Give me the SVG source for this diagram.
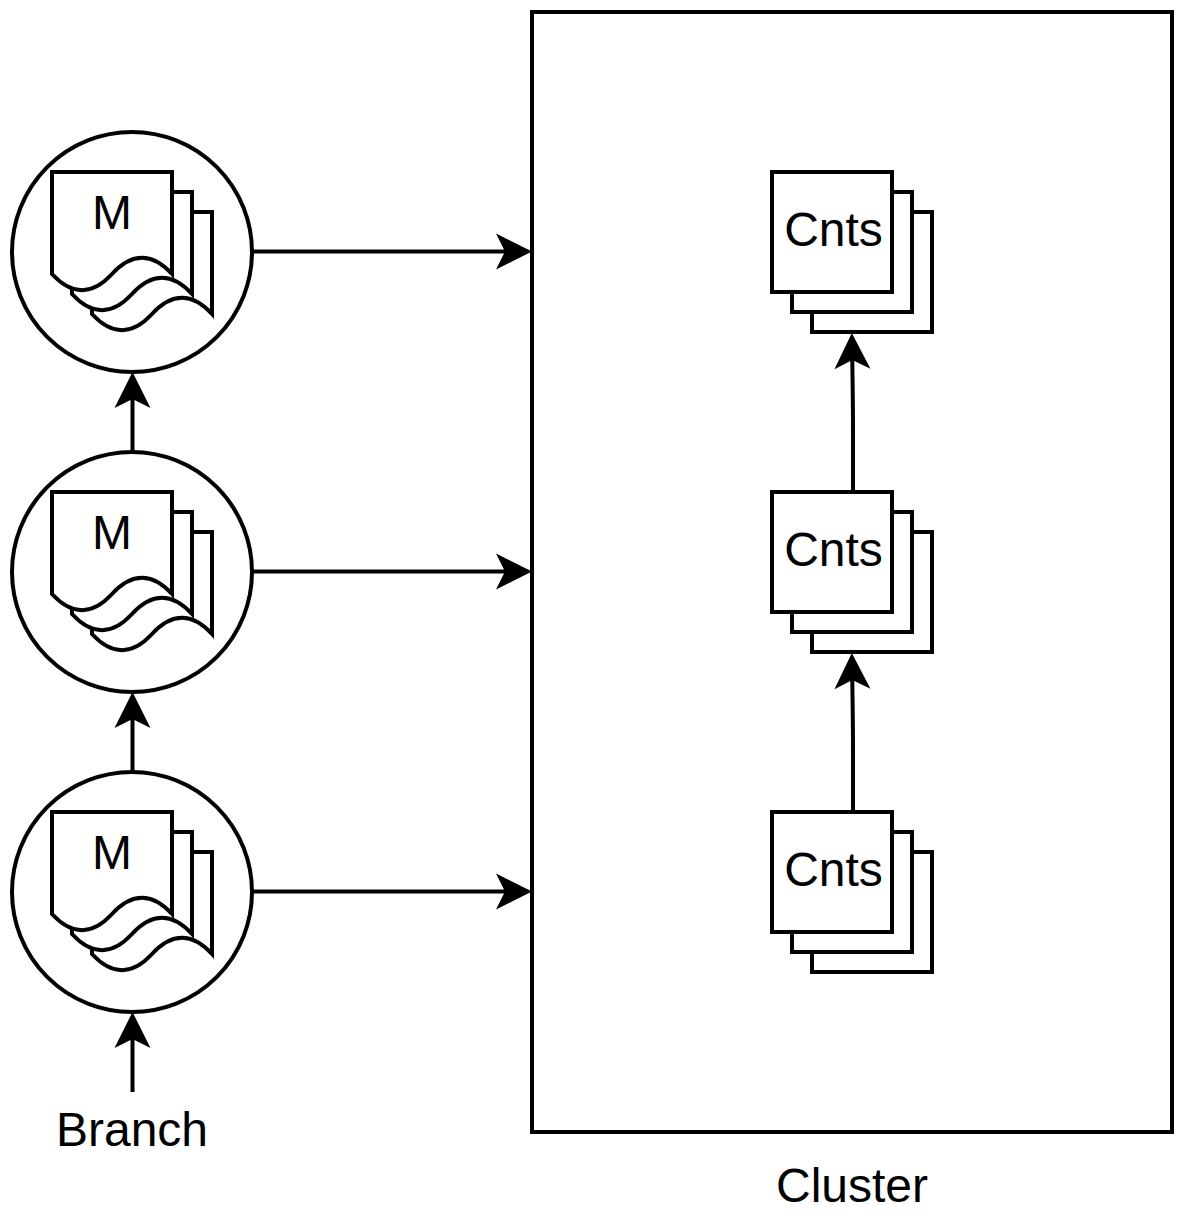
<svg xmlns="http://www.w3.org/2000/svg" xmlns:xlink="http://www.w3.org/1999/xlink" width="1184" height="1224" viewBox="0 0 1184 1224">
<style>
.s{fill:#fff;stroke:#000;stroke-width:4;stroke-miterlimit:10}
.c{fill:none;stroke:#000;stroke-width:4;stroke-miterlimit:10;marker-end:url(#arrow)}
text{font-family:"Liberation Sans",Arial,sans-serif;font-size:48px;fill:#000;text-anchor:middle}
</style>
<defs>
<marker id="arrow" markerUnits="userSpaceOnUse" markerWidth="40" markerHeight="40" refX="26" refY="20" orient="auto" viewBox="0 0 40 40" overflow="visible">
<path d="M0 2L36 20L0 38L9 20Z" fill="#000"/>
</marker>
<path id="doc" class="s" d="M0 0H120V102Q90 69.600 60 102Q30 134.400 0 102Z"/>
<g id="mstack">
<circle class="s" cx="132" cy="252" r="120"/>
<use href="#doc" x="92" y="212"/>
<use href="#doc" x="72" y="192"/>
<use href="#doc" x="52" y="172"/>
</g>
<g id="cstack">
<rect class="s" x="812" y="212" width="120" height="120"/>
<rect class="s" x="792" y="192" width="120" height="120"/>
<rect class="s" x="772" y="172" width="120" height="120"/>
</g>
</defs>
<g id="cluster"><rect class="s" x="532" y="12" width="640" height="1120"/><text x="852" y="1202">Cluster</text></g>
<g id="connectors">
<path class="c" d="M252 251.500H522"/>
<path class="c" d="M252 571.500H522"/>
<path class="c" d="M252 891.500H522"/>
<path class="c" d="M132.500 452V382"/>
<path class="c" d="M132.500 772V702"/>
<path class="c" d="M132.500 1092V1022"/>
<path class="c" d="M853 492V430Q853 400 852 343"/>
<path class="c" d="M853 812V750Q853 720 852 663"/>
</g>
<g id="m-top"><use href="#mstack"/><text x="112" y="229">M</text></g>
<g id="m-mid"><use href="#mstack" y="320"/><text x="112" y="549">M</text></g>
<g id="m-bottom"><use href="#mstack" y="640"/><text x="112" y="869">M</text></g>
<g id="cnts-top"><use href="#cstack"/><text x="833.500" y="246">Cnts</text></g>
<g id="cnts-mid"><use href="#cstack" y="320"/><text x="833.500" y="566">Cnts</text></g>
<g id="cnts-bottom"><use href="#cstack" y="640"/><text x="833.500" y="886">Cnts</text></g>
<g id="branch"><text x="132" y="1146">Branch</text></g>
</svg>
